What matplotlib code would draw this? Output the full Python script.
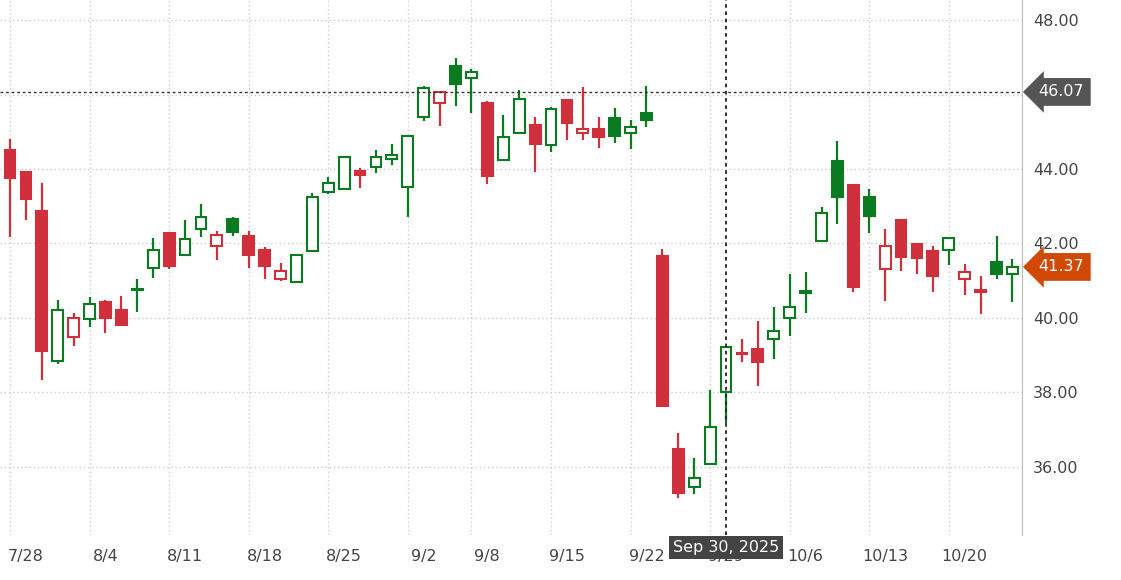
import matplotlib
matplotlib.use("Agg")
import matplotlib.pyplot as plt
import numpy as np

opens = [44.52,43.93,42.88,38.85,39.48,39.97,40.42,40.21,40.77,41.33,42.27,41.69,42.39,41.94,42.65,42.20,41.83,41.04,40.97,41.80,
         43.39,43.47,43.96,44.05,44.28,43.53,45.40,45.78,46.78,46.45,45.78,44.24,44.96,45.17,44.64,45.85,44.96,45.07,45.37,44.96,
         45.50,41.66,36.47,35.47,36.07,38.00,39.05,39.17,39.44,40.01,40.70,42.07,44.21,43.57,43.24,41.31,42.63,41.99,41.79,41.83,
         41.05,40.74,41.50,41.17]
highs = [44.80,43.95,43.63,40.48,40.13,40.57,40.48,40.60,41.04,42.14,42.30,42.63,43.06,42.34,42.72,42.34,41.91,41.48,41.72,43.36,
         43.79,44.35,44.02,44.51,44.66,44.92,46.24,46.08,46.97,46.68,45.83,45.45,46.12,45.39,45.67,45.87,46.21,45.39,45.63,45.32,
         46.24,41.85,36.90,36.25,38.07,39.25,39.44,39.92,40.29,41.18,41.24,42.97,44.75,43.59,43.46,42.38,42.65,42.01,41.93,42.16,
         41.44,41.13,42.21,41.58]
lows = [42.18,42.63,38.34,38.77,39.25,39.75,39.59,39.78,40.17,41.07,41.31,41.67,42.18,41.56,42.20,41.35,41.04,41.00,40.95,41.78,
        43.32,43.45,43.48,43.88,44.10,42.72,45.29,45.16,45.70,45.50,43.60,44.22,44.94,43.93,44.45,44.78,44.78,44.57,44.69,44.53,
        45.12,37.62,35.16,35.28,36.05,37.18,38.81,38.16,38.89,39.52,40.14,42.05,42.52,40.71,42.27,40.46,41.26,41.18,40.71,41.42,
        40.62,40.11,41.04,40.42]
closes = [43.75,43.19,39.12,40.21,40.01,40.38,39.99,39.80,40.74,41.83,41.40,42.11,42.71,42.23,42.30,41.69,41.40,41.26,41.70,43.24,
          43.63,44.33,43.84,44.31,44.37,44.89,46.17,46.06,46.29,46.61,43.82,44.85,45.89,44.67,45.61,45.24,45.07,44.87,44.90,45.12,
          45.32,37.64,35.29,35.70,37.08,39.21,39.02,38.83,39.65,40.30,40.68,42.83,43.26,40.84,42.74,41.94,41.65,41.62,41.13,42.14,
          41.24,40.71,41.17,41.37]
prev_close0 = 44.90
tick_labels = ["7/28","8/4","8/11","8/18","8/25","9/2","9/8","9/15","9/22","9/29","10/6","10/13","10/20"]
tick_idx = [1,6,11,16,21,26,30,35,40,45,50,55,60]
grid_idx = [0,5,10,15,20,25,29,34,39,44,49,54,59]
y_ticks = [36,38,40,42,44,46,48]
cross_price = 46.07
cross_idx = 45
cross_label = "Sep 30, 2025"
last_label = "41.37"

RED = "#d0303c"
GREEN = "#0b7b22"

fig = plt.figure(figsize=(11.21,5.80), dpi=100)
ax = fig.add_axes([0, 45/580, 1022/1121, 535/580])
ax.set_xlim(-0.63, 63.6)
ax.set_ylim(34.17, 48.54)

x = np.arange(len(opens))
prev = [prev_close0] + closes[:-1]
w = 0.68
for i in x:
    o, h, l, c = opens[i], highs[i], lows[i], closes[i]
    col = GREEN if c >= prev[i] else RED
    hollow = c > o
    ax.vlines(i, l, h, color=col, lw=1.6, zorder=2)
    bot = min(o, c); hgt = max(abs(c - o), 0.05)
    ax.bar(i, hgt, bottom=bot, width=w, facecolor="white" if hollow else col,
           edgecolor=col, linewidth=1.5, zorder=3)

for g in grid_idx:
    ax.axvline(g, color="#cccccc", ls=(0,(1,2)), lw=1, zorder=0)
for t in y_ticks:
    ax.axhline(t, color="#cccccc", ls=(0,(1,2)), lw=1, zorder=0)

ax.axhline(cross_price, color="#333333", ls=(0,(2,2)), lw=1, zorder=4)
ax.axvline(cross_idx, color="#222222", ls=(0,(2,2)), lw=1.3, zorder=4)

ax.yaxis.tick_right()
ax.set_yticks(y_ticks)
ax.set_yticklabels(["" if t == 46 else f"{t:.2f}" for t in y_ticks], fontsize=11.5, color="#444444")
ax.set_xticks(tick_idx)
ax.set_xticklabels(tick_labels, fontsize=11.5, color="#444444")
ax.tick_params(axis="both", length=0, pad=10)
ax.tick_params(axis="y", pad=8)
for s in ["top","left","bottom"]:
    ax.spines[s].set_visible(False)
ax.spines["right"].set_color("#bbbbbb")

ax.annotate(f"{cross_price:.2f}", xy=(1.0, cross_price), xycoords=("axes fraction","data"),
            xytext=(12, 0), textcoords="offset points", ha="left", va="center",
            fontsize=11.5, color="white",
            bbox=dict(boxstyle="larrow,pad=0.4", fc="#555555", ec="none"))
ax.annotate(last_label, xy=(1.0, closes[-1]), xycoords=("axes fraction","data"),
            xytext=(12, 0), textcoords="offset points", ha="left", va="center",
            fontsize=11.5, color="white",
            bbox=dict(boxstyle="larrow,pad=0.4", fc="#d04a06", ec="none"))
ax.annotate(cross_label, xy=(cross_idx, 0), xycoords=("data","axes fraction"),
            xytext=(0, -9), textcoords="offset points", ha="center", va="center",
            fontsize=11.5, color="white",
            bbox=dict(boxstyle="square,pad=0.25", fc="#444444", ec="none"))

fig.savefig("out.png", dpi=100, facecolor="white")
